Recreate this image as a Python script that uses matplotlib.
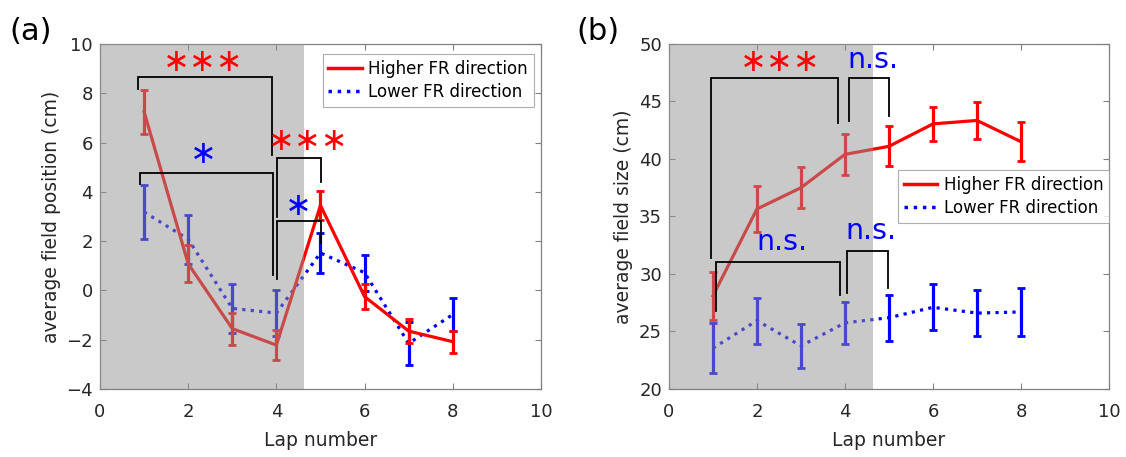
import matplotlib
matplotlib.use("Agg")
import matplotlib.pyplot as plt
from matplotlib.lines import Line2D

laps = [1, 2, 3, 4, 5, 6, 7, 8]

# Panel (a): average field position (cm)
pos_high = [7.25, 1.08, -1.55, -2.22, 3.45, -0.25, -1.65, -2.08]
pos_high_err = [0.9, 0.75, 0.65, 0.6, 0.6, 0.5, 0.5, 0.45]
pos_low = [3.18, 2.08, -0.73, -0.92, 1.52, 0.72, -2.15, -0.98]
pos_low_err = [1.1, 1.0, 1.0, 0.92, 0.8, 0.73, 0.87, 0.67]

# Panel (b): average field size (cm)
size_high = [28.1, 35.65, 37.5, 40.4, 41.1, 43.05, 43.35, 41.5]
size_high_err = [2.07, 2.0, 1.8, 1.75, 1.75, 1.5, 1.6, 1.7]
size_low = [23.55, 25.95, 23.75, 25.75, 26.2, 27.1, 26.6, 26.7]
size_low_err = [2.2, 2.0, 1.9, 1.85, 2.0, 2.0, 2.0, 2.1]

label_high = "Higher FR direction"
label_low = "Lower FR direction"

TXT = "#262626"
SP = "#808080"
RED = '#ff0000'
BLUE = '#0000ff'
plt.rcParams['font.family'] = ['DejaVu Sans']

fig = plt.figure(figsize=(11.26, 4.57), dpi=100)
axA = fig.add_axes([0.0888, 0.1488, 0.3916, 0.755])
axB = fig.add_axes([0.5941, 0.1488, 0.3908, 0.755])


def style(ax, ylim, yticks, ylabel):
    ax.set_xlim(0, 10)
    ax.set_ylim(*ylim)
    ax.set_xticks([0, 2, 4, 6, 8, 10])
    ax.set_yticks(yticks)
    ax.tick_params(direction='in', top=True, right=True, labelsize=13,
                   colors=SP, labelcolor=TXT, length=4, width=0.8)
    ax.tick_params(axis='x', pad=10)
    ax.tick_params(axis='y', pad=5)
    for s in ax.spines.values():
        s.set_color(SP)
        s.set_linewidth(0.9)
    ax.set_xlabel("Lap number", fontsize=13.5, color=TXT, labelpad=7)
    ax.set_ylabel(ylabel, fontsize=13.5, color=TXT, labelpad=4)


def draw(ax, hi, hie, lo, loe):
    ax.errorbar(laps, hi, yerr=hie, color=RED, lw=2.3, capsize=3,
                capthick=2, elinewidth=2.3, zorder=3)
    ax.errorbar(laps, lo, yerr=loe, color=BLUE, lw=2.3, ls=':', capsize=3,
                capthick=2, elinewidth=2.3, zorder=2)
    ax.axvspan(0, 4.63, color=(0.58, 0.58, 0.58), alpha=0.5, lw=0, zorder=4)


def bracket(ax, x1, x2, ytop, yl, yr):
    ax.plot([x1, x1, x2, x2], [yl, ytop, ytop, yr], color='black', lw=1.3,
            zorder=5, solid_joinstyle='miter')


def legend(ax, **kw):
    handles = [Line2D([], [], color=RED, lw=2.5),
               Line2D([], [], color=BLUE, lw=2.5, ls=':')]
    leg = ax.legend(handles, [label_high, label_low], fontsize=12, frameon=True,
                    fancybox=False, edgecolor='#999999', handlelength=2.0,
                    handletextpad=0.4, borderpad=0.35, labelspacing=0.3,
                    borderaxespad=0, **kw)
    leg.get_frame().set_linewidth(0.8)
    leg.set_zorder(7)
    return leg


star_kw = dict(fontsize=23, ha='center', va='center', zorder=6)

# ---- Panel (a)
draw(axA, pos_high, pos_high_err, pos_low, pos_low_err)
style(axA, (-4, 10), [-4, -2, 0, 2, 4, 6, 8, 10], "average field position (cm)")
bracket(axA, 0.87, 3.9, 8.65, 8.16, 5.5)
bracket(axA, 0.91, 3.92, 4.78, 4.31, 0.63)
bracket(axA, 4.01, 5.01, 5.39, 2.99, 4.41)
bracket(axA, 4.01, 5.01, 2.82, 0.45, 1.91)
axA.text(2.34, 9.26, "\u2217\u2217\u2217", color=RED, **star_kw)
axA.text(2.34, 5.5, "\u2217", color=BLUE, **star_kw)
axA.text(4.72, 6.04, "\u2217\u2217\u2217", color=RED, **star_kw)
axA.text(4.5, 3.4, "\u2217", color=BLUE, **star_kw)
legend(axA, loc='upper left', bbox_to_anchor=(0.505, 0.97))

# ---- Panel (b)
draw(axB, size_high, size_high_err, size_low, size_low_err)
style(axB, (20, 50), [20, 25, 30, 35, 40, 45, 50], "average field size (cm)")
bracket(axB, 0.95, 3.85, 47.0, 31.37, 43.16)
bracket(axB, 4.09, 5.0, 47.0, 43.33, 43.74)
bracket(axB, 1.08, 3.89, 31.07, 26.78, 28.17)
bracket(axB, 4.04, 4.97, 32.03, 28.32, 28.76)
axB.text(2.52, 48.4, "\u2217\u2217\u2217", color=RED, **star_kw)
ns_kw = dict(fontsize=20.5, ha='center', va='center', zorder=6, color=BLUE)
axB.text(4.64, 48.6, "n.s.", **ns_kw)
axB.text(2.56, 32.8, "n.s.", **ns_kw)
axB.text(4.6, 33.7, "n.s.", **ns_kw)
legend(axB, loc='upper left', bbox_to_anchor=(0.52, 0.634))

fig.text(0.008, 0.93, "(a)", fontsize=22, color='black', va='center')
fig.text(0.512, 0.93, "(b)", fontsize=22, color='black', va='center')

fig.savefig("out.png", dpi=100)
